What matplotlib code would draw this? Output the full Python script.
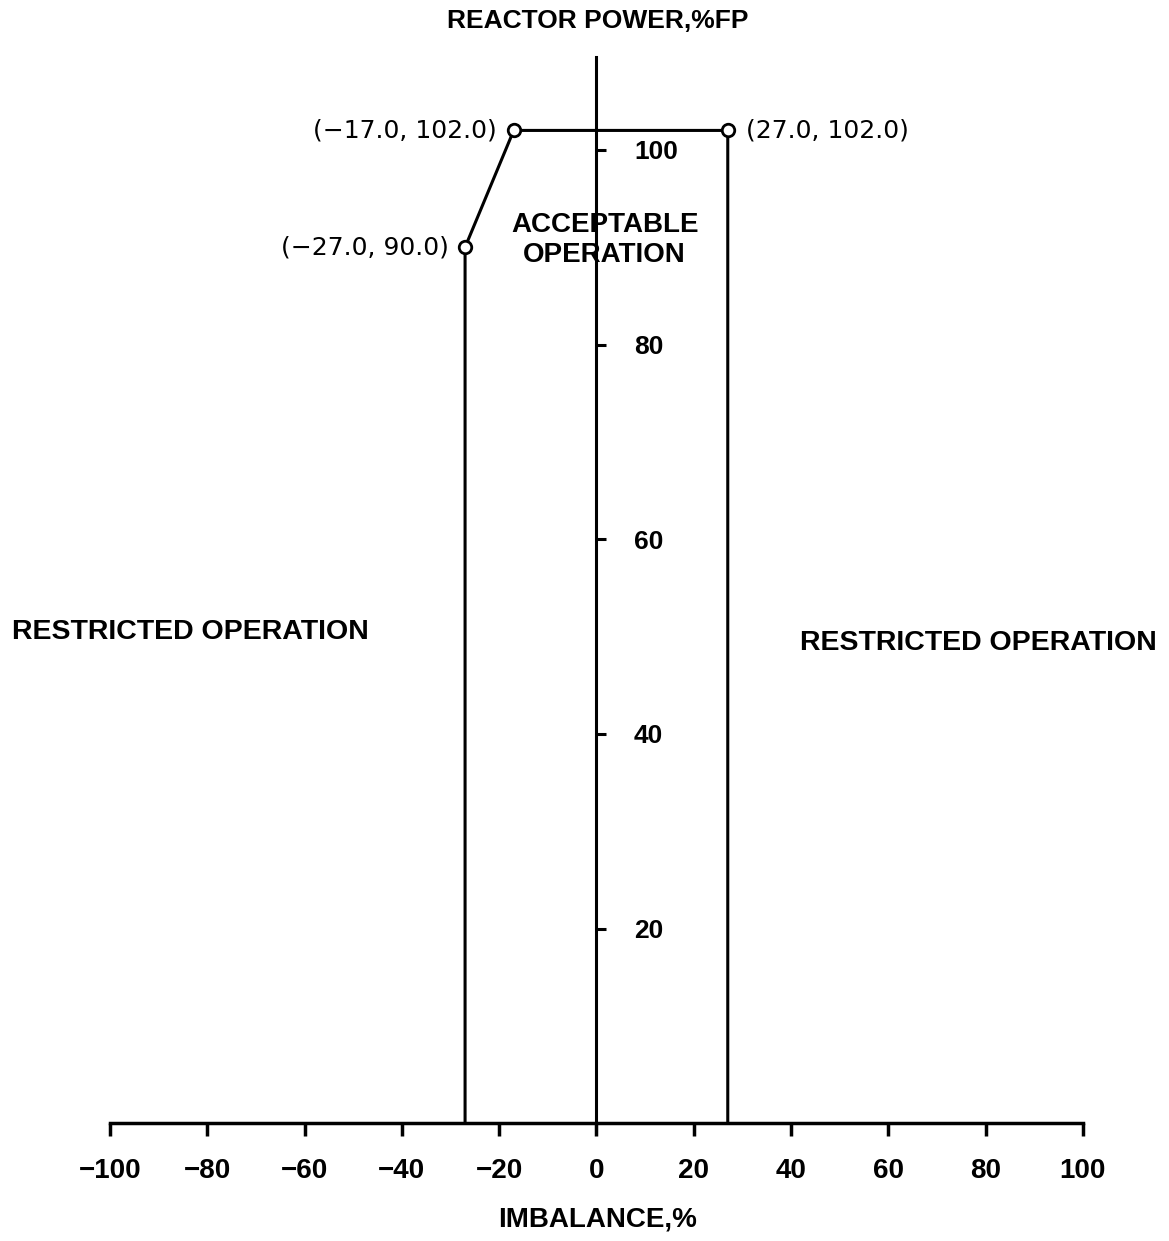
import numpy as np
import matplotlib
matplotlib.use("Agg")
import matplotlib.pyplot as plt

plt.rcParams['font.family'] = ['Liberation Sans', 'DejaVu Sans']

# boundary of acceptable operation (imbalance %, reactor power %FP)
imb = [-27.0, -27.0, -17.0, 27.0, 27.0]
pwr = [0.0, 90.0, 102.0, 102.0, 0.0]
# labelled break points
pt_x = [-17.0, 27.0, -27.0]
pt_y = [102.0, 102.0, 90.0]
pt_lab = ['(\u221217.0, 102.0)', '(27.0, 102.0)', '(\u221227.0, 90.0)']
pt_off = [(-12, 0), (13, 0), (-12, 0)]
pt_ha = ['right', 'left', 'right']

xticks = np.arange(-100, 101, 20)
yticks = [20, 40, 60, 80, 100]

fig = plt.figure(figsize=(11.69, 12.41), dpi=100)
ax = fig.add_axes([0, 0, 1, 1])
ax.set_xlim(-122.6, 117.7)
ax.set_ylim(-12.1, 115.4)

lw = 2.2
ax.plot(imb, pwr, color='black', lw=lw, zorder=3)
ax.plot(pt_x, pt_y, 'o', ms=9, mfc='white', mec='black', mew=2, zorder=4)
for x, y, s, off, ha in zip(pt_x, pt_y, pt_lab, pt_off, pt_ha):
    ax.annotate(s, (x, y), xytext=off, textcoords='offset points',
                ha=ha, va='center', fontsize=18, family='DejaVu Sans')

# axes through the origin
for s in ['top', 'left']:
    ax.spines[s].set_visible(False)
ax.spines['bottom'].set_position(('data', 0))
ax.spines['bottom'].set_bounds(-100, 100)
ax.spines['bottom'].set_linewidth(2.5)
ax.spines['right'].set_position(('data', 0))
ax.spines['right'].set_bounds(0, 109.5)
ax.spines['right'].set_linewidth(2.2)
ax.yaxis.set_ticks_position('right')

ax.set_xticks(xticks)
ax.set_xticklabels([f'{t:d}'.replace('-', '\u2212') for t in xticks])
ax.set_yticks(yticks)
ax.tick_params(axis='x', direction='out', length=9, width=2.5, pad=16,
               labelsize=20)
ax.tick_params(axis='y', direction='out', length=7, width=2.2, pad=20,
               labelsize=19)
for lab in ax.get_xticklabels() + ax.get_yticklabels():
    lab.set_fontweight('bold')

ax.text(0.3, 113.2, 'REACTOR POWER,%FP', ha='center', va='center',
        fontsize=19, fontweight='bold')
ax.text(0.3, -9.9, 'IMBALANCE,%', ha='center', va='center',
        fontsize=20, fontweight='bold')
ax.text(1.7, 90.7, 'ACCEPTABLE\nOPERATION', ha='center', va='center',
        fontsize=20, fontweight='bold', linespacing=1.2)
ax.text(-120.1, 50.5, 'RESTRICTED OPERATION', ha='left', va='center',
        fontsize=20.5, fontweight='bold')
ax.text(41.8, 49.3, 'RESTRICTED OPERATION', ha='left', va='center',
        fontsize=20.5, fontweight='bold')

fig.savefig('out.png', dpi=100)
